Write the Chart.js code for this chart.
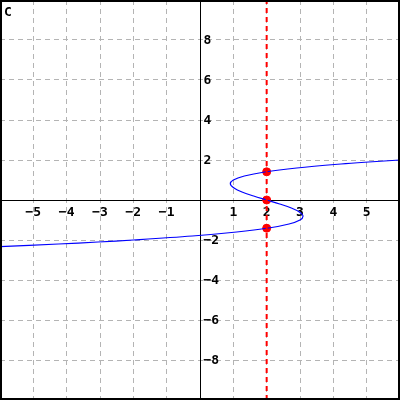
<!DOCTYPE html>
<html>
<head>
<meta charset="utf-8">
<script src="https://cdn.jsdelivr.net/npm/chart.js@4"></script>
<style>
  body { margin: 0; background: #fff; }
  #wrap { width: 400px; height: 400px; }
</style>
</head>
<body>
<div id="wrap"><canvas id="graphC" width="400" height="400"></canvas></div>
<script>
// curve points (x, y)
const curveX = [-7.0, -6.0, -4.25, -3.06, -2.0, -0.23, 1.1, 2.06, 2.67, 3.0, 3.09, 2.98, 2.74, 2.39, 2.0, 1.61, 1.26, 1.02, 0.91, 1.0, 1.33, 1.94, 2.9, 4.23, 5.06, 6.0, 6.5];
const curveY = [-2.4, -2.33, -2.2, -2.1, -2.0, -1.8, -1.6, -1.4, -1.2, -1.0, -0.8, -0.6, -0.4, -0.2, 0.0, 0.2, 0.4, 0.6, 0.8, 1.0, 1.2, 1.4, 1.6, 1.8, 1.9, 2.0, 2.05];

// red marked points on x = 2
const markX = [2, 2, 2];
const markY = [-1.41, 0, 1.41];

const lineX = 2;
const xTickLabels = [-5, -4, -3, -2, -1, 1, 2, 3, 4, 5];
const yTickLabels = [8, 6, 4, 2, -2, -4, -6, -8];
const panelLabel = 'C';

const curvePts = curveX.map((x, i) => ({ x: x, y: curveY[i] }));
const markPts = markX.map((x, i) => ({ x: x, y: markY[i] }));

// axes, tick labels, frame
const axesPlugin = {
    id: 'axesPlugin',
    beforeDatasetsDraw(chart) {
        const ctx = chart.ctx;
        const sx = chart.scales.x, sy = chart.scales.y;
        const x0 = Math.round(sx.getPixelForValue(0)) + 0.5;
        const y0 = Math.round(sy.getPixelForValue(0)) + 0.5;
        ctx.save();
        ctx.strokeStyle = '#000';
        ctx.lineWidth = 1;
        ctx.beginPath();
        ctx.moveTo(0, y0);
        ctx.lineTo(chart.width, y0);
        ctx.moveTo(x0, 0);
        ctx.lineTo(x0, chart.height);
        ctx.stroke();

        ctx.fillStyle = '#000';
        ctx.font = 'bold 13px "DejaVu Sans Mono"';
        ctx.textAlign = 'center';
        ctx.textBaseline = 'middle';
        xTickLabels.forEach(v => {
            ctx.fillText(String(v).replace('-', '\u2212'), sx.getPixelForValue(v), y0 + 12);
        });
        ctx.textAlign = 'left';
        yTickLabels.forEach(v => {
            ctx.fillText(String(v).replace('-', '\u2212'), x0 + 3, sy.getPixelForValue(v) + 1);
        });
        ctx.font = 'bold 13px "DejaVu Sans Mono"';
        ctx.fillText(panelLabel, 4, 13);
        ctx.restore();
    },
    afterDraw(chart) {
        const ctx = chart.ctx;
        ctx.save();
        ctx.strokeStyle = '#000';
        ctx.lineWidth = 2;
        ctx.strokeRect(1, 1, chart.width - 2, chart.height - 2);
        ctx.restore();
    }
};

new Chart(document.getElementById('graphC'), {
    type: 'scatter',
    data: {
        datasets: [
            {
                data: [{ x: lineX, y: -10 }, { x: lineX, y: 10 }],
                showLine: true,
                borderColor: '#ff0000',
                borderWidth: 2,
                borderDash: [5, 4],
                pointRadius: 0
            },
            {
                data: curvePts,
                showLine: true,
                borderColor: '#0000ff',
                borderWidth: 1.2,
                tension: 0.35,
                pointRadius: 0
            },
            {
                data: markPts,
                showLine: false,
                backgroundColor: '#ff0000',
                borderColor: '#ff0000',
                pointRadius: 4
            }
        ]
    },
    options: {
        responsive: false,
        animation: false,
        clip: 0,
        layout: { padding: 0, autoPadding: false },
        plugins: { legend: { display: false }, tooltip: { enabled: false } },
        scales: {
            x: {
                type: 'linear', min: -6, max: 6,
                ticks: { display: false, stepSize: 1, padding: 0 },
                grid: { color: '#b4b4b4', lineWidth: 1, drawTicks: false },
                border: { display: false, dash: [5, 4] }
            },
            y: {
                type: 'linear', min: -10, max: 10,
                ticks: { display: false, stepSize: 2, padding: 0 },
                grid: { color: '#b4b4b4', lineWidth: 1, drawTicks: false },
                border: { display: false, dash: [5, 4] }
            }
        }
    },
    plugins: [axesPlugin]
});
</script>
</body>
</html>
